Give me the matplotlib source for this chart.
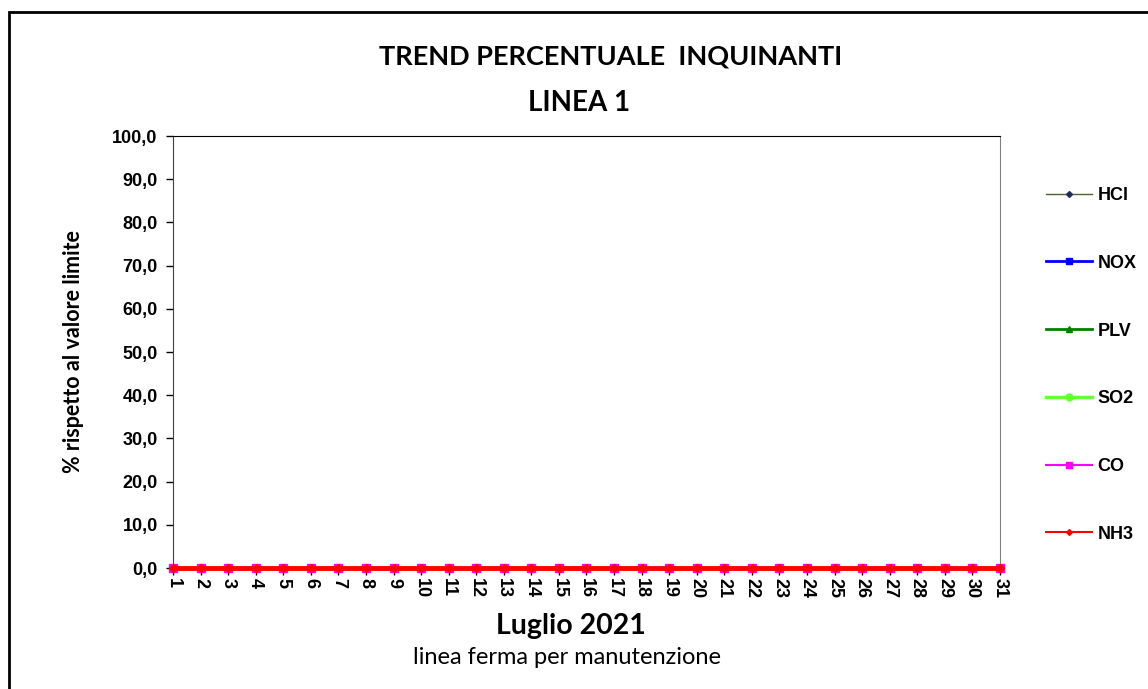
import matplotlib
matplotlib.use('Agg')
import matplotlib.pyplot as plt
from matplotlib.ticker import FuncFormatter
from matplotlib.patches import Rectangle
from matplotlib.lines import Line2D

# giorni del mese e valori (linea ferma: tutti zero)
giorni = list(range(1, 32))
hcl = [0.0] * 31
nox = [0.0] * 31
plv = [0.0] * 31
so2 = [0.0] * 31
co = [0.0] * 31
nh3 = [0.0] * 31

nomi = ['HCl', 'NOX', 'PLV', 'SO2', 'CO', 'NH3']

fig = plt.figure(figsize=(11.48, 6.89), dpi=100)
ax = fig.add_axes([0.1507, 0.1756, 0.7203, 0.627])

ax.plot(giorni, hcl, color='#4F6228', lw=1, marker='D', ms=3, mfc='#1F2A5C', mec='#1F2A5C', clip_on=False, zorder=3)
ax.plot(giorni, nox, color='#0000FF', lw=2, marker='s', ms=5, clip_on=False, zorder=3)
ax.plot(giorni, plv, color='#008000', lw=2, marker='^', ms=5, clip_on=False, zorder=3)
ax.plot(giorni, so2, color='#66FF33', lw=2.5, marker='o', ms=5, clip_on=False, zorder=3)
ax.plot(giorni, co, color='#FF00FF', lw=1.5, marker='s', ms=6, clip_on=False, zorder=3)
ax.plot(giorni, nh3, color='#FF0000', lw=3.5, marker='D', ms=4, clip_on=False, zorder=3)

ax.set_xlim(1, 31)
ax.set_ylim(0, 100)
ax.set_yticks(range(0, 101, 10))
ax.yaxis.set_major_formatter(FuncFormatter(lambda v, p: ('%.1f' % v).replace('.', ',')))
ax.set_xticks(giorni)
ax.set_xticklabels([str(g) for g in giorni], rotation=-90)
for lab in ax.get_xticklabels() + ax.get_yticklabels():
    lab.set_family('Liberation Sans')
    lab.set_fontweight('bold')
    lab.set_fontsize(13)
ax.tick_params(axis='y', direction='out', length=5, width=1, colors='black', pad=6)
ax.tick_params(axis='x', direction='out', length=5, width=1, colors='black', pad=2)

ax.spines['top'].set_color('black')
ax.spines['right'].set_color('#808080')
ax.spines['left'].set_color('#404040')
ax.spines['bottom'].set_color('black')

ax.set_ylabel('% rispetto al valore limite', family='Lato', fontweight='bold', fontsize=15.5)
ax.yaxis.set_label_coords(-0.108, 0.5)

fig.text(0.532, 0.918, 'TREND PERCENTUALE  INQUINANTI', ha='center', va='center', family='Lato', fontweight='bold', fontsize=19.5)
fig.text(0.504, 0.851, 'LINEA 1', ha='center', va='center', family='Lato', fontweight='bold', fontsize=20)
fig.text(0.497, 0.092, 'Luglio 2021', ha='center', va='center', family='Lato', fontweight='bold', fontsize=20.5)
fig.text(0.494, 0.046, 'linea ferma per manutenzione', ha='center', va='center', family='Lato', fontsize=17)

# legenda con linee sottili come nell'originale
handles = [
    Line2D([], [], color='#4F6228', lw=1, marker='D', ms=3, mfc='#1F2A5C', mec='#1F2A5C'),
    Line2D([], [], color='#0000FF', lw=2, marker='s', ms=5),
    Line2D([], [], color='#008000', lw=2, marker='^', ms=5),
    Line2D([], [], color='#66FF33', lw=2.5, marker='o', ms=5),
    Line2D([], [], color='#FF00FF', lw=1.5, marker='s', ms=5),
    Line2D([], [], color='#FF0000', lw=1.5, marker='D', ms=3),
]
fig.legend(handles, nomi, loc='upper left', bbox_to_anchor=(0.905, 0.739), frameon=False,
           handlelength=2.55, handletextpad=0.3, labelspacing=2.81, borderaxespad=0,
           prop={'family': 'Liberation Sans', 'weight': 'bold', 'size': 13})

fig.patches.append(Rectangle((0.008, -0.05), 1.1, 1.033, transform=fig.transFigure,
                             fill=False, ec='black', lw=2))

fig.savefig('out.png', dpi=100)
